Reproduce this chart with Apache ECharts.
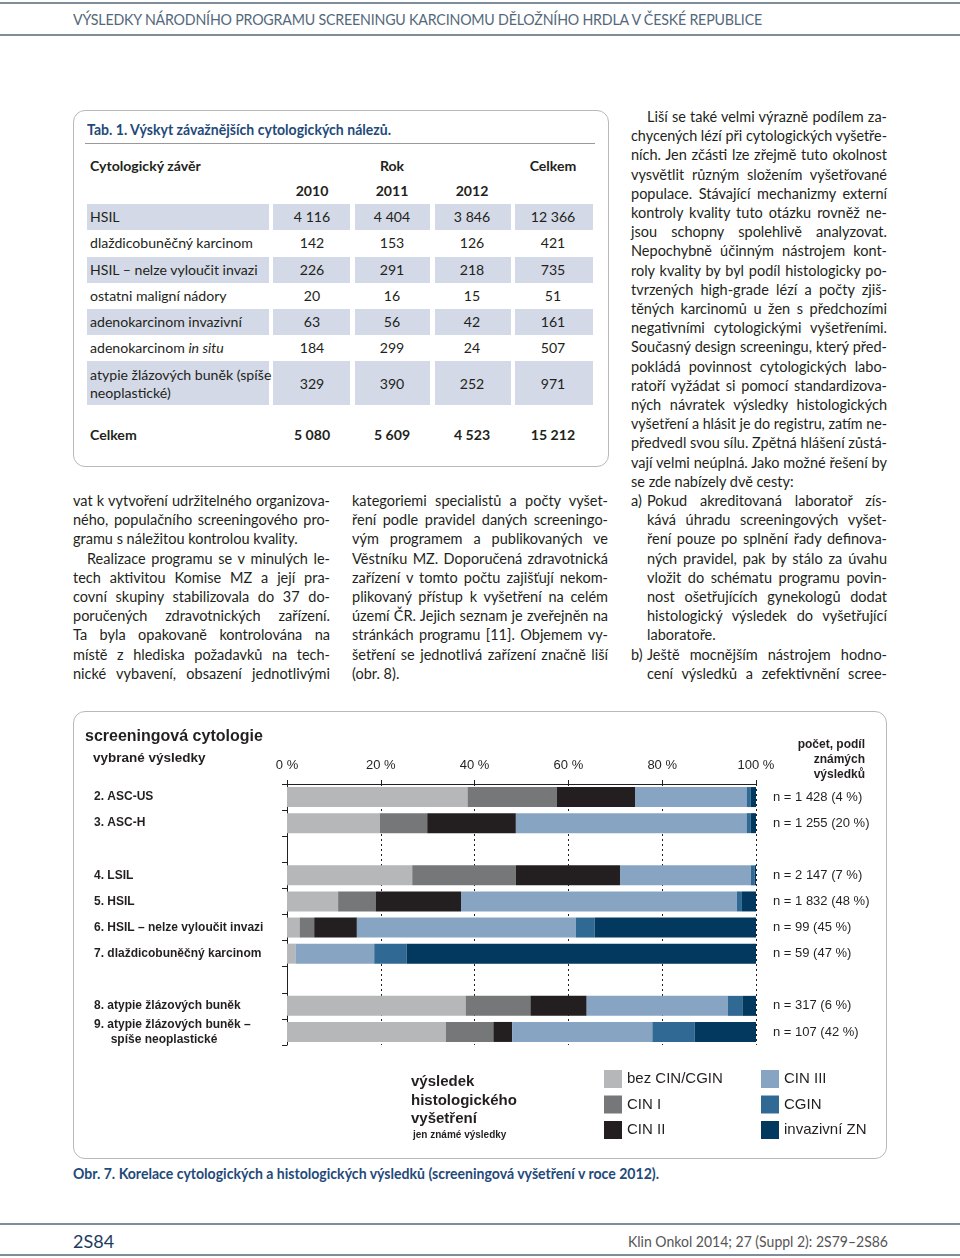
<!DOCTYPE html>
<html><head><meta charset="utf-8">
<script src="https://cdn.jsdelivr.net/npm/echarts@6/dist/echarts.min.js"></script>
<style>
html,body{margin:0;padding:0;background:#fff;}
body{width:960px;height:1258px;position:relative;overflow:hidden;font-family:Lato,"Open Sans",sans-serif;color:#231f20;}
.abs{position:absolute;white-space:nowrap;}
.hline{position:absolute;left:0;width:960px;height:2px;background:#7d8d9b;}
.box{position:absolute;border:1px solid #b9b9b9;border-radius:12px;box-sizing:border-box;}
.cell{position:absolute;background:#d3d9e6;}
.t{position:absolute;white-space:nowrap;font-size:14.1px;line-height:18px;}
.b{font-weight:bold;}
.ln{position:absolute;white-space:nowrap;font-size:14.5px;line-height:19px;height:19px;}
.ln span{white-space:nowrap;}
</style>
</head><body>
<div class="hline" style="top:2px;"></div>
<div class="abs" id="hdr" style="left:73px;top:10px;font-size:15px;color:#54687b;letter-spacing:-0.2px;">VÝSLEDKY NÁRODNÍHO PROGRAMU SCREENINGU KARCINOMU DĚLOŽNÍHO HRDLA V ČESKÉ REPUBLICE</div>
<div class="hline" style="top:34px;"></div>

<div class="box" style="left:73px;top:110px;width:536px;height:357px;"></div>
<div class="abs b" id="tabtitle" style="left:87px;top:121px;font-size:14.5px;color:#1f4a7a;">Tab. 1. Výskyt závažnějších cytologických nálezů.</div>
<div style="position:absolute;left:85px;top:143px;width:510px;height:1px;background:#9a9a9a;"></div>
<div id="table"></div>

<div id="cols"></div>

<div class="box" style="left:73px;top:711px;width:814px;height:448px;"></div>
<div id="chart" style="position:absolute;left:73px;top:711px;width:813px;height:447px;"></div>
<div class="abs b" id="caption" style="left:73px;top:1165px;font-size:14.5px;color:#1f4a7a;">Obr. 7. Korelace cytologických a histologických výsledků (screeningová vyšetření v roce 2012).</div>

<div class="hline" style="top:1223px;"></div>
<div class="abs" id="pg" style="left:73px;top:1230px;font-size:18px;color:#1d3c5c;">2S84</div>
<div class="abs" id="journal" style="left:628px;top:1232px;font-size:15px;color:#555;">Klin Onkol 2014; 27 (Suppl 2): 2S79–2S86</div>
<div class="hline" style="top:1254px;"></div>

<script>
// ---------- table data ----------
const tableRows = ['HSIL','dlaždicobuněčný karcinom','HSIL – nelze vyloučit invazi','ostatni maligní nádory','adenokarcinom invazivní','adenokarcinom <i>in situ</i>','atypie žlázových buněk (spíše<br>neoplastické)'];
const tableYears = ['2010','2011','2012'];
const v2010 = ['4 116','142','226','20','63','184','329'];
const v2011 = ['4 404','153','291','16','56','299','390'];
const v2012 = ['3 846','126','218','15','42','24','252'];
const vTotal = ['12 366','421','735','51','161','507','971'];
const totalsRow = ['5 080','5 609','4 523','15 212'];

// ---------- chart data ----------
const categories = ['2. ASC-US','3. ASC-H',' ','4. LSIL','5. HSIL','6. HSIL – nelze vyloučit invazi','7. dlaždicobuněčný karcinom','  ','8. atypie žlázových buněk','9. atypie žlázových buněk –\n     spíše neoplastické'];
const nLabels = ['n = 1 428 (4 %)','n = 1 255 (20 %)',' ','n = 2 147 (7 %)','n = 1 832 (48 %)','n = 99 (45 %)','n = 59 (47 %)','  ','n = 317 (6 %)','n = 107 (42 %)'];
const xTicks = [0,20,40,60,80,100];
const seriesNames = ['bez CIN/CGIN','CIN I','CIN II','CIN III','CGIN','invazivní ZN'];
const bezCin = [38.5, 19.8, null, 26.7, 10.9, 2.7, 1.8, null, 38.1, 33.9];
const cin1   = [19.0, 10.1, null, 22.1,  8.0, 3.1, 0,   null, 13.8, 10.1];
const cin2   = [16.7, 18.9, null, 22.2, 18.2, 9.1, 0,   null, 12.0,  4.0];
const cin3   = [23.8, 49.2, null, 27.9, 58.8, 46.7, 16.8, null, 30.1, 29.9];
const cgin   = [0.9,  0.9,  null, 0.8,  1.1,  4.0,  6.9,  null, 3.1,  9.0];
const invZn  = [1.1,  1.1,  null, 0.3,  3.0, 34.4, 74.5,  null, 2.9, 13.1];
const seriesColors = ['#b5b7b9','#767778','#231f20','#88a4c3','#306a94','#03385f'];

// ---------- text columns ----------
const col1 = [
 ['vat k vytvoření udržitelného organizova-',1,0],
 ['ného, populačního screeningového pro-',1,0],
 ['gramu s náležitou kontrolou kvality.',0,0],
 ['Realizace programu se v minulých le-',1,14],
 ['tech aktivitou Komise MZ a její pra-',1,0],
 ['covní skupiny stabilizovala do 37 do-',1,0],
 ['poručených zdravotnických zařízení.',1,0],
 ['Ta byla opakovaně kontrolována na',1,0],
 ['místě z hlediska požadavků na tech-',1,0],
 ['nické vybavení, obsazení jednotlivými',1,0]];
const col2 = [
 ['kategoriemi specialistů a počty vyšet-',1,0],
 ['ření podle pravidel daných screeningo-',1,0],
 ['vým programem a publikovaných ve',1,0],
 ['Věstníku MZ. Doporučená zdravotnická',1,0],
 ['zařízení v tomto počtu zajišťují nekom-',1,0],
 ['plikovaný přístup k vyšetření na celém',1,0],
 ['území ČR. Jejich seznam je zveřejněn na',1,0],
 ['stránkách programu [11]. Objemem vy-',1,0],
 ['šetření se jednotlivá zařízení značně liší',1,0],
 ['(obr. 8).',0,0]];
const col3 = [
 ['Liší se také velmi výrazně podílem za-',1,16],
 ['chycených lézí při cytologických vyšetře-',1,0],
 ['ních. Jen zčásti lze zřejmě tuto okolnost',1,0],
 ['vysvětlit různým složením vyšetřované',1,0],
 ['populace. Stávající mechanizmy externí',1,0],
 ['kontroly kvality tuto otázku rovněž ne-',1,0],
 ['jsou schopny spolehlivě analyzovat.',1,0],
 ['Nepochybně účinným nástrojem kont-',1,0],
 ['roly kvality by byl podíl histologicky po-',1,0],
 ['tvrzených high-grade lézí a počty zjiš-',1,0],
 ['těných karcinomů u žen s předchozími',1,0],
 ['negativními cytologickými vyšetřeními.',1,0],
 ['Současný design screeningu, který před-',1,0],
 ['pokládá povinnost cytologických labo-',1,0],
 ['ratoří vyžádat si pomocí standardizova-',1,0],
 ['ných návratek výsledky histologických',1,0],
 ['vyšetření a hlásit je do registru, zatím ne-',1,0],
 ['předvedl svou sílu. Zpětná hlášení zůstá-',1,0],
 ['vají velmi neúplná. Jako možné řešení by',1,0],
 ['se zde nabízely dvě cesty:',0,0],
 ['Pokud akreditovaná laboratoř zís-',1,16,'a)'],
 ['kává úhradu screeningových vyšet-',1,16],
 ['ření pouze po splnění řady definova-',1,16],
 ['ných pravidel, pak by stálo za úvahu',1,16],
 ['vložit do schématu programu povin-',1,16],
 ['nost ošetřujících gynekologů dodat',1,16],
 ['histologický výsledek do vyšetřující',1,16],
 ['laboratoře.',0,16],
 ['Ještě mocnějším nástrojem hodno-',1,16,'b)'],
 ['cení výsledků a zefektivnění scree-',1,16]];

function fit(el, w){
  el.style.transformOrigin='left center';
  const nw = el.getBoundingClientRect().width;
  el.style.transform = 'scaleX(' + (w/nw) + ')';
}
fit(document.getElementById('hdr'), 689);
fit(document.getElementById('tabtitle'), 304);
fit(document.getElementById('caption'), 586);
fit(document.getElementById('journal'), 260);

function addText(parent, html, x, yc, cls, align){
  const d = document.createElement('div');
  d.className = 't ' + (cls||'');
  d.innerHTML = html;
  d.style.top = (yc - 9) + 'px';
  parent.appendChild(d);
  const w = d.getBoundingClientRect().width;
  if (align === 'center') d.style.left = (x - w/2) + 'px';
  else d.style.left = x + 'px';
  return d;
}

// ---------- build table ----------
(function(){
  const tb = document.getElementById('table');
  const colX = [[87,269],[273,350],[355,430],[435,511],[515,593]];
  const centers = [312,392,472,553];
  const rowY = [216.7,243,269.5,295.7,322,348,384];
  const bands = [[204,230],null,[256.5,282.5],null,[309,335],null,[361,405]];
  bands.forEach(b=>{ if(!b) return; colX.forEach(c=>{ const d=document.createElement('div'); d.className='cell';
    d.style.left=c[0]+'px'; d.style.width=(c[1]-c[0])+'px'; d.style.top=b[0]+'px'; d.style.height=(b[1]-b[0])+'px'; tb.appendChild(d); }); });
  addText(tb,'Cytologický závěr',90,166,'b');
  addText(tb,'Rok',392,166,'b','center');
  addText(tb,'Celkem',553,166,'b','center');
  tableYears.forEach((y,i)=>addText(tb,y,centers[i],191,'b','center'));
  const cols = [v2010,v2011,v2012,vTotal];
  tableRows.forEach((r,i)=>{
    if (i===6){ const d = addText(tb,r,90,375,''); d.style.lineHeight='18px'; d.style.top='366px'; }
    else addText(tb,r,90,rowY[i],'');
    cols.forEach((c,j)=>addText(tb,c[i],centers[j],rowY[i],'','center'));
  });
  addText(tb,'Celkem',90,435,'b');
  totalsRow.forEach((v,j)=>addText(tb,v,centers[j],435,'b','center'));
})();

// ---------- build text columns ----------
function buildCol(lines, left, width, y0){
  const host = document.getElementById('cols');
  lines.forEach((l,i)=>{
    const [txt, just, ind, bullet] = l;
    const yc = y0 + i*19.2;
    if (bullet){
      const bd = document.createElement('div'); bd.className='ln'; bd.textContent=bullet;
      bd.style.left=left+'px'; bd.style.top=(yc-10)+'px'; host.appendChild(bd);
    }
    const d = document.createElement('div'); d.className='ln';
    const W = width - ind;
    d.style.left=(left+ind)+'px'; d.style.top=(yc-10)+'px'; d.style.width=W+'px';
    const s = document.createElement('span'); s.textContent = txt; d.appendChild(s); host.appendChild(d);
    const nw = s.getBoundingClientRect().width;
    const n = (txt.match(/ /g)||[]).length;
    if (nw > W){ s.style.display='inline-block'; s.style.transformOrigin='left center'; s.style.transform='scaleX('+(W/nw)+')'; }
    else if (just && n>0){ s.style.wordSpacing = ((W-nw)/n) + 'px'; }
  });
}
buildCol(col1, 73, 257, 501);
buildCol(col2, 352, 256, 501);
buildCol(col3, 631, 256, 117);

// ---------- chart ----------
const FF = '"Liberation Sans", Arial, sans-serif';
const dataArr = [bezCin, cin1, cin2, cin3, cgin, invZn];
const chart = echarts.init(document.getElementById('chart'), null, {renderer:'canvas'});
chart.setOption({
  animation:false,
  grid:{left:214, top:73, width:469, height:261, containLabel:false, outerBoundsMode:'none'},
  xAxis:{type:'value', position:'top', min:xTicks[0], max:xTicks[xTicks.length-1], interval:20,
    axisLine:{show:true, lineStyle:{color:'#231f20', width:1}},
    axisTick:{show:true, length:4, lineStyle:{color:'#231f20'}},
    axisLabel:{formatter:'{value} %', fontSize:13, color:'#231f20', margin:12, fontFamily:FF},
    splitLine:{show:true, lineStyle:{type:[2,3], color:'#231f20', width:1}}},
  yAxis:[
    {type:'category', data:categories, inverse:true,
     axisLine:{show:true, lineStyle:{color:'#231f20'}},
     axisTick:{show:true, length:5, lineStyle:{color:'#231f20'}},
     axisLabel:{interval:0, align:'left', margin:193, fontWeight:'bold', fontSize:12, color:'#231f20', lineHeight:15, fontFamily:FF}},
    {type:'category', data:nLabels, inverse:true, position:'right',
     axisLine:{show:false}, axisTick:{show:false},
     axisLabel:{interval:0, align:'left', margin:17, fontSize:13, color:'#231f20', fontFamily:FF}}
  ],
  legend:[
    {data:seriesNames.slice(0,3), orient:'vertical', left:531, top:359, padding:0, itemWidth:18, itemHeight:18, itemGap:7.5, icon:'rect', selectedMode:false,
     textStyle:{fontSize:15, color:'#231f20', fontFamily:FF}},
    {data:seriesNames.slice(3), orient:'vertical', left:688, top:359, padding:0, itemWidth:18, itemHeight:18, itemGap:7.5, icon:'rect', selectedMode:false,
     textStyle:{fontSize:15, color:'#231f20', fontFamily:FF}}
  ],
  graphic:[
    {type:'text', x:12, y:18, style:{text:'screeningová cytologie', font:'bold 16px '+FF, fill:'#231f20'}},
    {type:'text', x:20, y:40, style:{text:'vybrané výsledky', font:'bold 13.5px '+FF, fill:'#231f20'}},
    {type:'text', x:792, y:26, style:{text:'počet, podíl\nznámých\nvýsledků', font:'bold 12px '+FF, fill:'#231f20', align:'right', textAlign:'right', verticalAlign:'top', lineHeight:15}},
    {type:'text', x:338, y:362, style:{text:'výsledek\nhistologického\nvyšetření', font:'bold 15px '+FF, fill:'#231f20', lineHeight:18.5}},
    {type:'text', x:340, y:419, style:{text:'jen známé výsledky', font:'bold 10px '+FF, fill:'#231f20'}}
  ],
  series: seriesNames.map((nm,i)=>({
    name:nm, type:'bar', stack:'total', barWidth:20, silent:true,
    itemStyle:{color:seriesColors[i]}, data:dataArr[i]
  }))
});
</script>
</body></html>
